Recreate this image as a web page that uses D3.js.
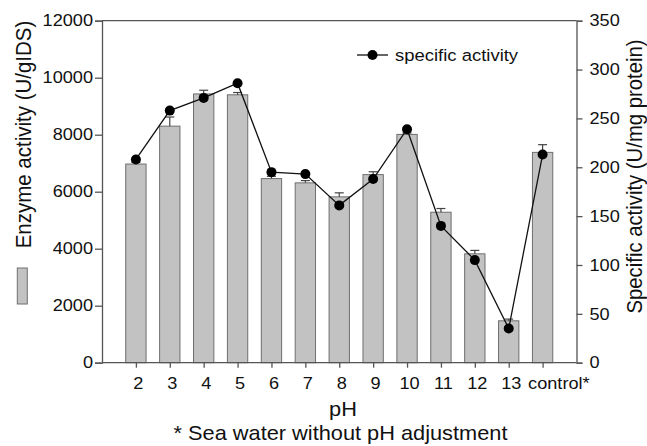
<!DOCTYPE html>
<html>
<head>
<meta charset="utf-8">
<script src="https://cdn.jsdelivr.net/npm/d3@7"></script>
<style>
  body { margin: 0; background: #fff; }
  svg { display: block; }
  text { font-family: "Liberation Sans", Arial, Helvetica, sans-serif; fill: #111; }
</style>
</head>
<body>
<div id="chart"></div>
<script>
// values
const categories = ["2", "3", "4", "5", "6", "7", "8", "9", "10", "11", "12", "13", "control*"];
const enzyme     = [6970, 8300, 9430, 9400, 6460, 6310, 5820, 6600, 8010, 5280, 3820, 1470, 7380];
const enzymeErr  = [60, 320, 130, 80, 80, 80, 140, 100, 50, 130, 120, 60, 270];
const specific   = [208, 258, 271, 286, 195, 193, 161, 188, 239, 140, 105, 35, 213];
const leftTicks  = [0, 2000, 4000, 6000, 8000, 10000, 12000];
const rightTicks = [0, 50, 100, 150, 200, 250, 300, 350];

const width = 647, height = 446;
const margin = {left: 102, right: 70.5, top: 20.7, bottom: 83.3};
const axisColor = "#555";
const tickFont = 16.5;
const sx = 1.1; // the original type is a little wider than Liberation Sans

// widen a text horizontally while keeping its anchor point
function stretch(sel) {
    sel.each(function() {
        const t = d3.select(this);
        const x0 = +t.attr("x") || 0;
        t.attr("x", x0 / sx).attr("transform", `scale(${sx},1)`);
    });
}

const svg = d3.select("#chart").append("svg")
    .attr("width", width)
    .attr("height", height);

const x = d3.scalePoint()
    .domain(categories)
    .range([margin.left, width - margin.right])
    .padding(1);

const yL = d3.scaleLinear()
    .domain([0, 12000])
    .range([height - margin.bottom, margin.top]);

const yR = d3.scaleLinear()
    .domain([0, 350])
    .range([height - margin.bottom, margin.top]);

const barW = x.step() * 0.6;

// bars
svg.append("g")
    .selectAll("rect")
    .data(enzyme)
    .join("rect")
    .attr("x", (d, i) => x(categories[i]) - barW / 2)
    .attr("y", d => yL(d))
    .attr("width", barW)
    .attr("height", d => yL(0) - yL(d))
    .attr("fill", "#c2c2c2")
    .attr("stroke", "#6e6e6e")
    .attr("stroke-width", 1);

// error bars (only the upper half shows)
const err = svg.append("g").attr("stroke", "#444").attr("stroke-width", 1.2);
enzyme.forEach((d, i) => {
    const cx = x(categories[i]);
    err.append("line")
        .attr("x1", cx).attr("x2", cx)
        .attr("y1", yL(d)).attr("y2", yL(d + enzymeErr[i]));
    err.append("line")
        .attr("x1", cx - 4.5).attr("x2", cx + 4.5)
        .attr("y1", yL(d + enzymeErr[i])).attr("y2", yL(d + enzymeErr[i]));
});

// axes
const axL = svg.append("g")
    .attr("transform", `translate(${margin.left},0)`)
    .call(d3.axisLeft(yL).tickValues(leftTicks).tickSize(7).tickPadding(2).tickFormat(d3.format("d")));
const axR = svg.append("g")
    .attr("transform", `translate(${width - margin.right},0)`)
    .call(d3.axisRight(yR).tickValues(rightTicks).tickSize(6).tickPadding(7));
const axB = svg.append("g")
    .attr("transform", `translate(0,${height - margin.bottom})`)
    .call(d3.axisBottom(x).tickSize(5).tickPadding(10));

[axL, axR, axB].forEach(a => {
    a.select(".domain").attr("stroke", axisColor).attr("stroke-width", 1.3);
    a.selectAll(".tick line").attr("stroke", axisColor).attr("stroke-width", 1.3);
    a.selectAll(".tick text").attr("font-size", tickFont).attr("fill", "#111")
        .style("font-family", '"Liberation Sans", Arial, sans-serif');
});
axB.select(".domain").attr("d", `M${margin.left},0H${width - margin.right}`);
axB.selectAll(".tick text").attr("x", 2);
// the control label sits to the right of its tick, as in the original
axB.selectAll(".tick text").filter(d => d === "control*")
    .attr("text-anchor", "start").attr("x", -15);
[axL, axR, axB].forEach(a => stretch(a.selectAll(".tick text")));

// top frame line
svg.append("line")
    .attr("x1", margin.left).attr("x2", width - margin.right)
    .attr("y1", margin.top).attr("y2", margin.top)
    .attr("stroke", axisColor).attr("stroke-width", 1.3);

// specific activity line
const line = d3.line()
    .x((d, i) => x(categories[i]))
    .y(d => yR(d));

svg.append("path")
    .datum(specific)
    .attr("d", line)
    .attr("fill", "none")
    .attr("stroke", "#111")
    .attr("stroke-width", 1.3);

svg.append("g")
    .selectAll("circle")
    .data(specific)
    .join("circle")
    .attr("cx", (d, i) => x(categories[i]))
    .attr("cy", d => yR(d))
    .attr("r", 5)
    .attr("fill", "#000");

// legend
const lg = svg.append("g").attr("transform", "translate(357,55)");
lg.append("line").attr("x1", 0).attr("x2", 31).attr("y1", 0).attr("y2", 0)
    .attr("stroke", "#111").attr("stroke-width", 1.3);
lg.append("circle").attr("cx", 15.5).attr("cy", 0).attr("r", 5).attr("fill", "#000");
lg.append("text").attr("x", 38).attr("y", 5.5).attr("font-size", 16.8).text("specific activity")
    .call(stretch);

// left axis title with bar swatch
svg.append("text")
    .attr("transform", `translate(31,20.7) rotate(-90) scale(1,${sx})`)
    .attr("text-anchor", "end")
    .attr("font-size", 20.5)
    .text("Enzyme activity (U/gIDS)");
svg.append("rect")
    .attr("x", 17.3).attr("y", 268)
    .attr("width", 10).attr("height", 36)
    .attr("fill", "#c2c2c2").attr("stroke", "#6e6e6e");

// right axis title
svg.append("text")
    .attr("transform", `translate(642,176.5) rotate(-90) scale(1,${sx})`)
    .attr("text-anchor", "middle")
    .attr("font-size", 20.3)
    .text("Specific activity (U/mg protein)");

// x titles
svg.append("text")
    .attr("x", 343).attr("y", 416)
    .attr("text-anchor", "middle").attr("font-size", 19.8)
    .text("pH")
    .call(stretch);
svg.append("text")
    .attr("x", 340.5).attr("y", 440)
    .attr("text-anchor", "middle").attr("font-size", 19.8)
    .text("* Sea water without pH adjustment")
    .call(stretch);
</script>
</body>
</html>
